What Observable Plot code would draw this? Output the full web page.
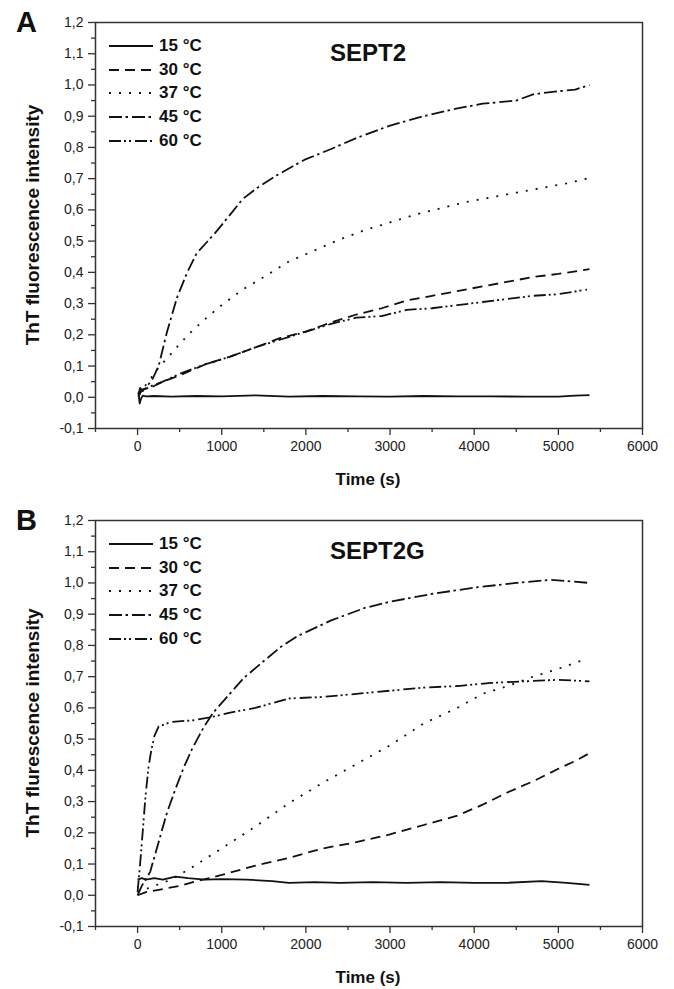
<!DOCTYPE html>
<html>
<head>
<meta charset="utf-8">
<script src="https://cdn.jsdelivr.net/npm/d3@7"></script>
<script src="https://cdn.jsdelivr.net/npm/@observablehq/plot@0.6"></script>
<style>
  html, body { margin: 0; padding: 0; background: #fff; }
  #wrap { position: relative; width: 674px; height: 989px; font-family: "Liberation Sans", Arial, sans-serif; color: #111; }
  .panel { position: absolute; left: 0; }
  .letter { position: absolute; font-weight: bold; font-size: 29px; line-height: 1; }
  .title { position: absolute; font-weight: bold; font-size: 24px; line-height: 1; }
  .xlab { position: absolute; font-weight: bold; font-size: 17px; line-height: 1; width: 200px; text-align: center; }
  .ylab { position: absolute; font-weight: bold; font-size: 19px; line-height: 1; white-space: nowrap; transform: translate(-50%, -50%) rotate(-90deg); }
  .legend { position: absolute; }
  .legend .row { position: absolute; left: 0; height: 20px; width: 200px; }
  .legend svg { position: absolute; left: 0; top: 0; }
  .legend span { position: absolute; left: 50px; top: 0; font-weight: bold; font-size: 17px; line-height: 20px; white-space: nowrap; }
</style>
</head>
<body>
<div id="wrap"></div>
<script>
// ---------- data ----------
const seriesLabels = ["15 °C", "30 °C", "37 °C", "45 °C", "60 °C"];
const xTicks = [0, 1000, 2000, 3000, 4000, 5000, 6000];
const xMinor = [-500, 500, 1500, 2500, 3500, 4500, 5500];
const yTicks = [-0.1, 0, 0.1, 0.2, 0.3, 0.4, 0.5, 0.6, 0.7, 0.8, 0.9, 1.0, 1.1, 1.2];
const yMinor = [-0.05, 0.05, 0.15, 0.25, 0.35, 0.45, 0.55, 0.65, 0.75, 0.85, 0.95, 1.05, 1.15];

// Panel A (SEPT2)
const A15_t = [10, 25, 40, 60, 100, 200, 400, 700, 1000, 1400, 1800, 2200, 2600, 3000, 3400, 3800, 4200, 4600, 5000, 5200, 5370];
const A15_v = [0.015, -0.02, -0.005, 0.005, 0.003, 0.004, 0.002, 0.004, 0.003, 0.006, 0.002, 0.004, 0.003, 0.002, 0.004, 0.003, 0.003, 0.002, 0.002, 0.005, 0.007];
const A30_t = [20, 60, 150, 300, 500, 800, 1100, 1400, 1700, 2000, 2300, 2600, 2900, 3200, 3500, 3800, 4100, 4400, 4700, 5000, 5370];
const A30_v = [0.01, 0.025, 0.03, 0.05, 0.07, 0.105, 0.13, 0.16, 0.19, 0.21, 0.24, 0.265, 0.285, 0.31, 0.325, 0.34, 0.355, 0.37, 0.385, 0.395, 0.41];
const A37_t = [20, 100, 250, 400, 600, 800, 1000, 1250, 1500, 1800, 2100, 2400, 2700, 3000, 3300, 3600, 3900, 4200, 4500, 4800, 5100, 5340];
const A37_v = [0.01, 0.04, 0.095, 0.14, 0.2, 0.25, 0.295, 0.345, 0.385, 0.435, 0.47, 0.505, 0.535, 0.56, 0.585, 0.605, 0.625, 0.64, 0.655, 0.67, 0.685, 0.70];
const A45_t = [10, 40, 100, 180, 250, 350, 470, 590, 700, 800, 950, 1100, 1250, 1420, 1650, 1980, 2300, 2600, 3000, 3400, 3800, 4100, 4500, 4700, 5000, 5200, 5370];
const A45_v = [0.0, 0.02, 0.03, 0.06, 0.1, 0.21, 0.32, 0.4, 0.46, 0.49, 0.535, 0.585, 0.635, 0.67, 0.71, 0.76, 0.795, 0.83, 0.87, 0.9, 0.925, 0.94, 0.95, 0.97, 0.98, 0.985, 1.0];
const A60_t = [10, 30, 60, 150, 300, 500, 800, 1100, 1400, 1700, 2000, 2300, 2600, 2900, 3200, 3500, 3800, 4100, 4400, 4700, 5000, 5340];
const A60_v = [0.01, 0.03, 0.02, 0.035, 0.05, 0.075, 0.105, 0.13, 0.16, 0.185, 0.21, 0.235, 0.255, 0.26, 0.28, 0.285, 0.295, 0.305, 0.315, 0.325, 0.33, 0.345];

// Panel B (SEPT2G)
const B15_t = [0, 50, 100, 200, 300, 450, 600, 800, 1000, 1300, 1600, 1800, 2100, 2400, 2800, 3200, 3600, 4000, 4400, 4800, 5100, 5370];
const B15_v = [0.05, 0.055, 0.05, 0.055, 0.05, 0.06, 0.055, 0.05, 0.052, 0.05, 0.045, 0.04, 0.042, 0.04, 0.042, 0.04, 0.042, 0.04, 0.04, 0.045, 0.04, 0.033];
const B30_t = [0, 100, 300, 500, 700, 1000, 1400, 1800, 2200, 2600, 3000, 3400, 3800, 4100, 4400, 4700, 5000, 5200, 5370];
const B30_v = [0.0, 0.01, 0.02, 0.03, 0.045, 0.065, 0.095, 0.12, 0.15, 0.17, 0.195, 0.225, 0.255, 0.29, 0.33, 0.365, 0.405, 0.43, 0.455];
const B37_t = [0, 200, 400, 650, 1000, 1400, 1800, 2200, 2600, 3000, 3400, 3800, 4100, 4400, 4700, 5000, 5260];
const B37_v = [0.01, 0.03, 0.05, 0.09, 0.15, 0.22, 0.295, 0.36, 0.42, 0.48, 0.55, 0.6, 0.645, 0.67, 0.7, 0.725, 0.75];
const B45_t = [0, 50, 150, 250, 350, 450, 550, 650, 790, 900, 1030, 1260, 1500, 1700, 1900, 2300, 2700, 3000, 3500, 4000, 4500, 4900, 5150, 5370];
const B45_v = [0.0, 0.03, 0.075, 0.17, 0.265, 0.34, 0.41, 0.47, 0.54, 0.585, 0.625, 0.695, 0.75, 0.795, 0.83, 0.88, 0.92, 0.94, 0.965, 0.985, 1.0, 1.01, 1.005, 1.0];
const B60_t = [0, 30, 60, 95, 130, 160, 200, 250, 400, 650, 870, 1100, 1400, 1800, 2200, 2600, 3000, 3400, 3800, 4200, 4600, 5000, 5370];
const B60_v = [0.01, 0.1, 0.2, 0.32, 0.41, 0.46, 0.51, 0.54, 0.555, 0.56, 0.57, 0.585, 0.6, 0.63, 0.635, 0.645, 0.655, 0.665, 0.67, 0.68, 0.685, 0.69, 0.685];

// ---------- styles ----------
const dashes = [null, "10,6", "2,8", "13,3.5,2.5,4", "12,3,2,3,2,4"];
const INK = "#111";

const toRows = (t, v) => t.map((d, i) => ({t: d, v: v[i]}));
const fmtY = d => d.toFixed(1).replace(".", ",");

function panel(series) {
  const lines = series.map((s, i) => Plot.line(toRows(s[0], s[1]), {
    x: "t", y: "v", stroke: INK, strokeWidth: 1.8,
    strokeDasharray: dashes[i] || undefined, strokeLinecap: "butt", curve: "linear"
  }));
  return Plot.plot({
    width: 674, height: 490,
    marginTop: 22, marginBottom: 62, marginLeft: 95, marginRight: 32,
    style: {fontFamily: '"Liberation Sans", Arial, sans-serif', fontSize: "14px", color: "#222", background: "#fff"},
    x: {domain: [-500, 6000], label: null},
    y: {domain: [-0.1, 1.2], label: null},
    marks: [
      Plot.axisX({ticks: xMinor, tickSize: 4, tickFormat: () => "", stroke: "#333", strokeWidth: 1.3}),
      Plot.axisX({ticks: xTicks, tickSize: 7, tickPadding: 6, tickFormat: d => String(d), fontSize: 14, stroke: "#333", strokeWidth: 1.3}),
      Plot.axisY({ticks: yMinor, tickSize: 4, tickFormat: () => "", stroke: "#333", strokeWidth: 1.3}),
      Plot.axisY({ticks: yTicks, tickSize: 7, tickPadding: 5, tickFormat: fmtY, fontSize: 14, stroke: "#333", strokeWidth: 1.3}),
      ...lines,
      Plot.frame({stroke: "#333", strokeWidth: 1.5})
    ]
  });
}

const wrap = document.getElementById("wrap");
function add(html) { const d = document.createElement("div"); d.innerHTML = html; const el = d.firstElementChild; wrap.appendChild(el); return el; }

function legend(top) {
  const box = add(`<div class="legend" style="left:109px;top:${top}px"></div>`);
  seriesLabels.forEach((lab, i) => {
    const row = document.createElement("div");
    row.className = "row";
    row.style.top = (i * 23.7) + "px";
    row.innerHTML = `<svg width="46" height="20"><line x1="0" y1="10" x2="44" y2="10" stroke="${INK}" stroke-width="1.8" ${dashes[i] ? `stroke-dasharray="${dashes[i]}"` : ""}/></svg><span>${lab}</span>`;
    box.appendChild(row);
  });
}

const panels = [
  {top: 0, series: [[A15_t, A15_v], [A30_t, A30_v], [A37_t, A37_v], [A45_t, A45_v], [A60_t, A60_v]], letter: "A", title: "SEPT2", ylab: "ThT fluorescence intensity"},
  {top: 498, series: [[B15_t, B15_v], [B30_t, B30_v], [B37_t, B37_v], [B45_t, B45_v], [B60_t, B60_v]], letter: "B", title: "SEPT2G", ylab: "ThT flurescence intensity"}
];

panels.forEach(p => {
  const svg = panel(p.series);
  const holder = document.createElement("div");
  holder.className = "panel";
  holder.style.top = p.top + "px";
  holder.appendChild(svg);
  wrap.appendChild(holder);
  add(`<div class="letter" style="left:16px;top:${p.top + 8}px">${p.letter}</div>`);
  add(`<div class="title" style="left:330px;top:${p.top + 41}px">${p.title}</div>`);
  add(`<div class="xlab" style="left:${368 - 100}px;top:${p.top + 471}px">Time (s)</div>`);
  add(`<div class="ylab" style="left:32px;top:${p.top + 225}px">${p.ylab}</div>`);
  legend(p.top + 36);
});
</script>
</body>
</html>
